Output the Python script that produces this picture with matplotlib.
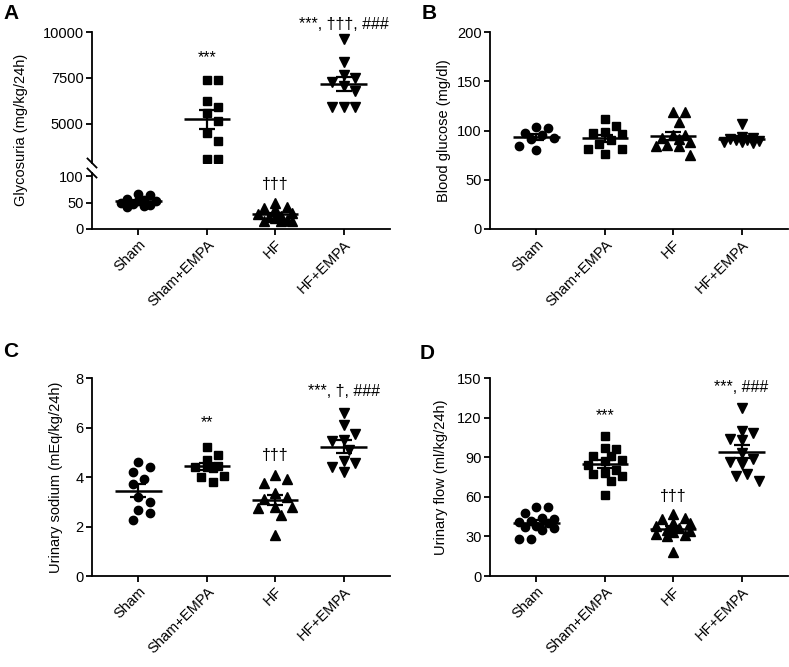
import numpy as np
import matplotlib
matplotlib.use('Agg')
import matplotlib.pyplot as plt

plt.rcParams['font.family'] = ['Liberation Sans', 'DejaVu Sans']
plt.rcParams['font.size'] = 10.5

groups = ["Sham", "Sham+EMPA", "HF", "HF+EMPA"]
markers = ['o', 's', '^', 'v']

# A: glycosuria (mg/kg/24h)
gly_sham = [66, 64, 57, 55, 53, 52, 50, 48, 46, 43, 42]
gly_sham_empa = [7400, 7400, 6250, 5900, 5600, 5150, 4500, 4050, 3100, 3100]
gly_hf = [50, 42, 40, 38, 30, 28, 25, 22, 20, 17, 16, 15, 15]
gly_hf_empa = [9600, 8350, 7500, 7650, 7300, 7050, 6800, 5900, 5900, 5900]

# B: blood glucose (mg/dl)
glu_sham = [103, 104, 91, 95, 97, 80, 84, 92]
glu_sham_empa = [112, 105, 98, 96, 97, 90, 81, 81, 76, 86]
glu_hf = [119, 119, 109, 95, 95, 84, 84, 85, 75, 91, 92, 88]
glu_hf_empa = [107, 93, 92, 91, 90, 89, 88, 88, 87, 90]

# C: urinary sodium (mEq/kg/24h)
na_sham = [4.4, 4.6, 4.2, 3.7, 3.9, 3.2, 3.0, 2.65, 2.55, 2.25]
na_sham_empa = [5.2, 4.9, 4.7, 4.45, 4.4, 4.4, 4.35, 4.05, 4.0, 3.8]
na_hf = [4.1, 3.9, 3.75, 3.35, 3.2, 3.1, 2.8, 2.8, 2.75, 2.45, 1.65]
na_hf_empa = [6.6, 6.1, 5.75, 5.5, 5.45, 5.1, 4.65, 4.55, 4.4, 4.2]

# D: urinary flow (ml/kg/24h)
flow_sham = [52, 52, 48, 44, 43, 42, 41, 40, 38, 37, 36, 35, 28, 28]
flow_sham_empa = [106, 97, 96, 91, 91, 88, 87, 84, 80, 78, 77, 76, 72, 61]
flow_hf = [47, 44, 43, 40, 40, 38, 36, 35, 34, 33, 32, 31, 30, 18]
flow_hf_empa = [127, 108, 110, 103, 104, 93, 89, 86, 85, 77, 76, 72]

W, H = 789, 667


def rect(left, top, right, bottom):
    return [left / W, 1 - bottom / H, (right - left) / W, (bottom - top) / H]


def swarm(ax, x0, vals, gap=11.5, maxw=22):
    # prism-like scatter: spread sideways, but keep inside +-maxw pixels
    vals = np.asarray(vals, float)
    pix = ax.transData.transform(np.column_stack([np.full(len(vals), x0), vals]))
    ypix = pix[:, 1]
    ppu = ax.transData.transform((1, 0))[0] - ax.transData.transform((0, 0))[0]
    cands = [0.0]
    k = 1
    while k * gap / 2 <= maxw + 0.01:
        cands += [k * gap / 2, -k * gap / 2]
        k += 1
    placed = []
    off = np.zeros(len(vals))
    for i in np.argsort(-vals, kind='stable'):
        best, bestd = None, -1
        for c in cands:
            d = min([np.hypot(c - px, ypix[i] - py) for px, py in placed] or [1e9])
            if d >= gap * 0.95:
                best = c
                break
            if d > bestd + 0.5:
                best, bestd = c, d
        off[i] = best
        placed.append((best, ypix[i]))
    return x0 + off / ppu


def group(ax, x0, vals, marker):
    vals = np.asarray(vals, float)
    xs = swarm(ax, x0, vals)
    ms = 6.5 if marker in '^v' else 6
    ax.plot(xs, vals, linestyle='none', marker=marker, ms=ms, color='black', zorder=2)
    m = vals.mean()
    sem = vals.std(ddof=1) / np.sqrt(len(vals))
    ax.hlines(m, x0 - 0.34, x0 + 0.34, color='black', lw=1.8, zorder=3)
    ax.errorbar([x0], [m], yerr=[sem], fmt='none', ecolor='black', elinewidth=1.6,
                capsize=6, capthick=1.6, zorder=3)


def style(ax):
    for s in ['top', 'right']:
        ax.spines[s].set_visible(False)
    for s in ['left', 'bottom']:
        ax.spines[s].set_linewidth(1.3)
    ax.tick_params(direction='out', length=4, width=1.3, labelsize=10.5, pad=2)
    ax.set_xlim(-0.68, 3.68)


def xlabels(ax):
    ax.set_xticks(range(4))
    ax.set_xticklabels(groups, rotation=45, ha='right', va='top', rotation_mode='anchor', fontsize=10.5)


def note(ax, x, y, s):
    ax.text(x, y, s, ha='center', va='baseline', fontsize=11.5)


fig = plt.figure(figsize=(W / 100, H / 100), dpi=100)

# ---- A (broken axis) ----
axA1 = fig.add_axes(rect(92, 32, 390, 163))
axA2 = fig.add_axes(rect(92, 173, 390, 229))
for ax in (axA1, axA2):
    style(ax)
axA1.spines['bottom'].set_visible(False)
axA1.tick_params(axis='x', bottom=False, labelbottom=False)
axA1.set_ylim(2880, 10000)
axA1.set_yticks([5000, 7500, 10000])
axA2.set_ylim(0, 105.7)
axA2.set_yticks([0, 50, 100])
xlabels(axA2)
group(axA2, 0, gly_sham, markers[0])
group(axA1, 1, gly_sham_empa, markers[1])
group(axA2, 2, gly_hf, markers[2])
group(axA1, 3, gly_hf_empa, markers[3])
dx = 4.5 / 298
for ax, hpx in ((axA1, 131), (axA2, 56)):
    y0 = 0 if ax is axA1 else 1
    dy = 4.5 / hpx
    ax.plot([-dx, dx], [y0 + dy, y0 - dy], transform=ax.transAxes, color='black',
            lw=1.3, clip_on=False)
axA1.set_ylabel("Glycosuria (mg/kg/24h)")
axA1.yaxis.set_label_coords(-0.215, 0.25)
note(axA1, 1, 8370, "***")
note(axA1, 3, 10160, "***, †††, ###")
note(axA2, 2, 75, "†††")

# ---- B ----
axB = fig.add_axes(rect(490, 32, 788, 229))
style(axB)
axB.set_ylim(0, 200)
axB.set_yticks([0, 50, 100, 150, 200])
xlabels(axB)
for i, v in enumerate([glu_sham, glu_sham_empa, glu_hf, glu_hf_empa]):
    group(axB, i, v, markers[i])
axB.set_ylabel("Blood glucose (mg/dl)")
axB.yaxis.set_label_coords(-0.13, 0.5)

# ---- C ----
axC = fig.add_axes(rect(92, 378, 390, 576))
style(axC)
axC.set_ylim(0, 8)
axC.set_yticks([0, 2, 4, 6, 8])
xlabels(axC)
for i, v in enumerate([na_sham, na_sham_empa, na_hf, na_hf_empa]):
    group(axC, i, v, markers[i])
axC.set_ylabel("Urinary sodium (mEq/kg/24h)")
axC.yaxis.set_label_coords(-0.097, 0.5)
note(axC, 1, 6.02, "**")
note(axC, 2, 4.69, "†††")
note(axC, 3, 7.27, "***, †, ###")

# ---- D ----
axD = fig.add_axes(rect(490, 378, 788, 576))
style(axD)
axD.set_ylim(0, 150)
axD.set_yticks([0, 30, 60, 90, 120, 150])
xlabels(axD)
for i, v in enumerate([flow_sham, flow_sham_empa, flow_hf, flow_hf_empa]):
    group(axD, i, v, markers[i])
axD.set_ylabel("Urinary flow (ml/kg/24h)")
axD.yaxis.set_label_coords(-0.14, 0.5)
note(axD, 1, 118, "***")
note(axD, 2, 56.8, "†††")
note(axD, 3, 139.4, "***, ###")

# panel letters
for lab, x, y in (("A", 3, 4), ("B", 422, 4), ("C", 3, 342), ("D", 420, 344)):
    fig.text(x / W, 1 - y / H, lab, fontsize=15, fontweight='bold', ha='left', va='top')

fig.savefig("out.png", dpi=100)
